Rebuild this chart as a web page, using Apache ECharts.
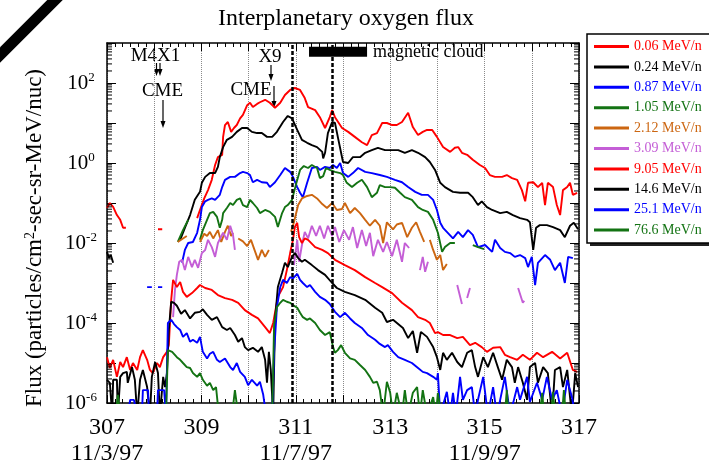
<!DOCTYPE html>
<html><head><meta charset="utf-8">
<script src="https://cdn.jsdelivr.net/npm/echarts@6/dist/echarts.min.js"></script>
<style>html,body{margin:0;padding:0;background:#fff}#c{width:709px;height:467px}</style>
</head><body><div id="c"></div>
<script>
const FONT = "'Liberation Serif','DejaVu Serif',serif";
const seriesNames = ['0.06 MeV/n','0.24 MeV/n','0.87 MeV/n','1.05 MeV/n','2.12 MeV/n','3.09 MeV/n','9.05 MeV/n','14.6 MeV/n','25.1 MeV/n','76.6 MeV/n'];
const seriesColors = ['#ff0000','#000000','#0000ff','#137313','#cc6611','#c45ed6','#ff0000','#000000','#0000ff','#137313'];

// [day of year, flux]
const s006 = [[307.00,7.5e-2],[307.06,0.1],[307.13,8e-2],[307.21,5e-2],[307.28,3.8e-2],[307.34,2.4e-2],[307.40,2.4e-2],null,
[308.08,2.2e-2],[308.17,2.2e-2],null,
[308.91,4.2e-2],[308.97,6.7e-2],[309.06,0.13],[309.14,0.21],[309.22,0.38],[309.29,0.89],[309.35,1.4],[309.44,1.6],[309.46,4.5],[309.50,8.9],[309.56,10.6],[309.63,6],[309.69,7.5],[309.75,8.9],[309.82,13],[309.88,16],[309.97,28],[310.03,32],[310.09,25],[310.18,30],[310.24,33],[310.35,38],[310.45,32],[310.56,24],[310.67,32],[310.77,50],[310.88,67],[310.98,75],[311.09,67],[311.19,42],[311.26,25],[311.41,21],[311.51,14],[311.62,7.5],[311.72,14],[311.77,21],[311.83,14],[311.98,7.5],[312.11,6],[312.25,4.5],[312.40,3.3],[312.51,2.8],[312.61,5],[312.72,5.6],[312.83,10],[312.93,10],[313.04,8.9],[313.14,8.9],[313.25,10.6],[313.38,18],[313.48,7.9],[313.59,5],[313.69,6],[313.78,6.7],[313.89,6.7],[313.99,4.5],[314.12,2.5],[314.27,1.9],[314.37,2.4],[314.44,2.5],[314.52,1.8],[314.63,1.6],[314.75,1.2],[314.90,0.89],[315.01,0.75],[315.11,0.5],[315.22,0.45],[315.37,0.45],[315.47,0.5],[315.58,0.42],[315.69,0.38],[315.79,0.21],[315.86,0.11],[315.92,0.32],[316.03,0.33],[316.13,0.25],[316.22,0.32],[316.28,8.9e-2],[316.34,0.32],[316.45,0.25],[316.53,8.9e-2],[316.60,5e-2],[316.66,0.21],[316.75,0.25],[316.81,0.32],[316.87,0.16],[316.96,0.18]];

const s024 = [[307.00,6e-3],[307.04,4.2e-3],[307.08,5e-3],[307.13,3.2e-3],null,
[308.55,1.2e-2],[308.65,2.4e-2],[308.76,5e-2],[308.86,0.12],[308.97,0.19],[309.01,0.32],[309.08,0.45],[309.18,0.56],[309.29,0.56],[309.35,0.8],[309.39,1.4],[309.46,2.5],[309.54,3.8],[309.65,4.5],[309.75,6],[309.86,7.5],[309.97,7.5],[310.07,6],[310.18,5.6],[310.28,5.6],[310.39,4.5],[310.50,4.5],[310.60,6],[310.73,10.6],[310.83,15],[310.92,13],[311.03,6.7],[311.13,3.8],[311.24,3.2],[311.34,2.8],[311.45,2.5],[311.56,1.9],[311.58,1.3],[311.62,1.8],[311.68,5.6],[311.77,10.6],[311.83,10],[311.89,4.5],[312.00,1.06],[312.11,1],[312.21,1.4],[312.36,1.4],[312.47,1.8],[312.61,2.1],[312.74,2.4],[312.89,2.1],[313.04,2.1],[313.17,2.1],[313.31,1.8],[313.46,2.1],[313.59,1.8],[313.74,1.4],[313.84,1.06],[313.95,0.67],[314.06,0.32],[314.16,0.25],[314.33,0.19],[314.48,0.18],[314.65,0.18],[314.75,0.14],[314.86,8.9e-2],[314.94,0.11],[315.05,7.9e-2],[315.16,6.7e-2],[315.33,5.6e-2],[315.47,6e-2],[315.60,5e-2],[315.75,4.2e-2],[315.90,3.8e-2],[315.96,3.3e-2],[316.03,6.7e-3],[316.09,2.4e-2],[316.17,2.8e-2],[316.32,2.8e-2],[316.45,2.5e-2],[316.60,2.1e-2],[316.70,1.4e-2],[316.81,2.7e-2],[316.89,3.2e-2],[316.98,2.2e-2]];

const s087 = [[307.85,7.9e-4],[307.95,7.9e-4],null,[308.08,7.9e-4],[308.17,7.9e-4],null,
[308.59,3.2e-3],[308.65,6.7e-3],[308.72,1e-2],[308.82,1.06e-2],[308.91,1.8e-2],[308.97,3.8e-2],[309.01,7.9e-2],[309.08,0.11],[309.14,0.12],[309.22,0.13],[309.29,0.12],[309.39,0.16],[309.44,0.25],[309.50,0.38],[309.61,0.45],[309.71,0.45],[309.82,0.56],[309.88,0.6],[309.97,0.56],[310.03,0.5],[310.09,0.33],[310.18,0.38],[310.28,0.33],[310.39,0.32],[310.45,0.25],[310.56,0.33],[310.67,0.5],[310.77,0.75],[310.88,0.6],[310.94,0.45],[311.03,0.25],[311.09,0.18],[311.15,0.14],[311.24,0.32],[311.34,0.75],[311.45,0.8],[311.51,0.67],[311.62,0.8],[311.72,0.75],[311.79,0.89],[311.87,0.75],[311.94,1],[312.00,0.56],[312.11,0.45],[312.21,0.56],[312.32,0.75],[312.47,0.6],[312.61,0.56],[312.78,0.5],[312.93,0.45],[313.10,0.38],[313.25,0.33],[313.38,0.25],[313.53,0.19],[313.67,0.16],[313.80,0.16],[313.91,0.12],[313.99,6.7e-2],[314.06,3.2e-2],[314.12,2.4e-2],[314.20,1.9e-2],[314.33,1.3e-2],[314.44,1.9e-2],[314.54,1.4e-2],[314.65,2.1e-2],[314.75,1.6e-2],[314.86,7.9e-3],[315.01,8.9e-3],[315.16,6e-3],[315.22,1.2e-2],[315.33,7.5e-3],[315.43,6e-3],[315.54,5.6e-3],[315.64,4.5e-3],[315.75,5e-3],[315.86,4.2e-3],[315.92,2.5e-3],[316.00,4.5e-3],[316.07,8.9e-4],[316.13,3.2e-3],[316.28,5e-3],[316.39,3.8e-3],[316.49,2.1e-3],[316.60,3.2e-3],[316.70,1e-3],[316.77,4.5e-3],[316.87,4.2e-3]];

const s105 = [[308.50,1.06e-2],[308.61,2.1e-2],[308.72,3.8e-2],null,
[308.97,1.2e-2],[309.03,2.1e-2],[309.12,3.8e-2],[309.18,5.6e-2],[309.25,6e-2],[309.33,4.5e-2],[309.39,2.4e-2],[309.44,3.8e-2],[309.46,5.6e-2],[309.54,7.5e-2],[309.61,0.1],[309.67,8.9e-2],[309.75,0.12],[309.82,0.13],[309.88,8.9e-2],[309.97,7.9e-2],[310.03,0.12],[310.09,0.1],[310.18,7.5e-2],[310.24,5.6e-2],[310.35,6.7e-2],[310.45,6e-2],[310.56,4.5e-2],[310.62,2.5e-2],[310.71,5.6e-2],[310.77,7.9e-2],[310.83,8.9e-2],[310.92,0.12],[311.00,0.28],[311.09,0.67],[311.17,0.84],[311.26,0.75],[311.34,0.89],[311.45,0.75],[311.51,0.42],[311.58,0.47],[311.64,0.75],[311.72,0.67],[311.83,0.6],[311.94,0.56],[312.00,0.5],[312.08,0.32],[312.19,0.25],[312.30,0.32],[312.40,0.38],[312.51,0.25],[312.61,0.14],[312.72,0.18],[312.78,0.28],[312.89,0.25],[313.00,0.25],[313.10,0.24],[313.21,0.18],[313.31,0.14],[313.46,0.12],[313.59,7.9e-2],[313.69,6.7e-2],[313.80,6e-2],[313.91,3.8e-2],[314.01,1.8e-2],[314.10,6e-3],[314.16,7.9e-3],[314.27,1e-2],[314.37,1e-2],null,
[314.75,8.9e-3],[314.86,7.9e-3],[314.99,7e-3]];

const s212 = [[308.50,1.06e-2],[308.61,1.3e-2],[308.69,1.5e-2],null,
[308.97,1.06e-2],[309.06,1.7e-2],[309.12,1.5e-2],[309.18,1.9e-2],[309.25,1.3e-2],[309.35,2.1e-2],[309.42,1.06e-2],[309.50,1.9e-2],[309.56,2.7e-2],[309.63,1.5e-2],[309.67,1.8e-2],null,
[309.78,1.3e-2],[309.88,1.1e-2],[309.97,8.4e-3],[310.05,1.2e-2],[310.14,6e-3],[310.20,3.8e-3],[310.28,6.7e-3],[310.35,4.5e-3],[310.43,6.7e-3],null,
[310.90,1.9e-2],[310.96,3.3e-2],[311.05,8.9e-2],[311.13,0.13],[311.24,0.15],[311.34,0.16],[311.45,0.13],[311.56,9.4e-2],[311.66,7.5e-2],[311.77,0.1],[311.87,6.7e-2],[311.98,7.1e-2],[312.04,0.1],[312.15,5.6e-2],[312.25,7.5e-2],[312.36,5.6e-2],[312.47,3.8e-2],[312.57,2.7e-2],[312.68,3.8e-2],[312.78,2.7e-2],[312.85,1e-2],[312.93,3.3e-2],[313.06,2.2e-2],[313.14,2.9e-2],[313.25,3.2e-2],[313.36,1.4e-2],[313.46,2.4e-2],[313.55,3.3e-2],[313.63,1.9e-2],[313.72,1.06e-2],null,
[313.84,1.2e-2],[313.91,6.7e-3],[313.99,3.8e-3],[314.06,5e-3],[314.12,2.1e-3],[314.20,3e-3]];

const s309 = [[308.40,1.4e-4],[308.44,6.7e-4],[308.48,1.6e-3],[308.53,3.4e-3],[308.59,3.8e-3],[308.65,2.1e-3],[308.72,4.5e-3],[308.80,2.5e-3],[308.86,3.8e-3],[308.93,2.4e-3],[309.01,5.6e-3],[309.08,6.7e-3],[309.14,1.2e-2],[309.22,7.9e-3],[309.29,4.5e-3],[309.35,1e-2],[309.46,1.8e-2],[309.54,1.2e-2],[309.61,2.7e-2],[309.67,1.6e-2],[309.71,6.7e-3],null,
[310.96,2.8e-3],[311.03,1.2e-2],[311.07,3.4e-3],[311.13,8.9e-3],[311.19,1.9e-2],[311.26,1.3e-2],[311.34,2.7e-2],[311.43,1.5e-2],[311.51,2.7e-2],[311.60,1.3e-2],[311.68,2.7e-2],[311.77,1.5e-2],[311.83,2.5e-2],[311.92,1.06e-2],[312.02,2.1e-2],[312.13,1.2e-2],[312.21,2.5e-2],[312.30,7.5e-3],[312.40,2.1e-2],[312.49,8.4e-3],[312.57,1.8e-2],[312.64,4.7e-3],[312.74,1.2e-2],[312.85,6e-3],[312.93,1.06e-2],[313.04,4.7e-3],[313.14,1.2e-2],[313.25,3.4e-3],[313.31,1e-2],[313.40,7.5e-3],null,
[313.63,2.1e-3],[313.69,4.5e-3],[313.74,1.9e-3],[313.80,3.4e-3],null,
[314.42,8.9e-4],[314.52,3e-4],null,[314.63,4.2e-4],[314.69,7.5e-4],null,[315.71,7.5e-4],[315.81,3.2e-4],[315.84,3.6e-4]];

const s905 = [[307.00,1.4e-5],[307.06,7.5e-6],[307.13,1.2e-5],[307.21,4.5e-6],[307.28,1.06e-5],[307.34,7.9e-6],[307.42,1.4e-5],[307.49,6.7e-6],[307.55,1e-5],[307.64,6.7e-6],[307.70,1.4e-5],[307.76,2.1e-5],[307.85,1.2e-5],[307.91,6.7e-6],[307.97,5.6e-6],[308.06,1e-5],[308.12,7.9e-6],[308.19,1.4e-5],[308.27,1.9e-5],[308.31,2.8e-5],[308.36,3.8e-4],[308.40,1.2e-3],[308.48,7.9e-4],[308.55,1.06e-3],[308.61,6e-4],[308.69,4.5e-4],[308.80,5.6e-4],[308.91,7.5e-4],[308.97,8.9e-4],[309.08,7.5e-4],[309.22,6.7e-4],[309.35,5e-4],[309.50,4.2e-4],[309.65,3.8e-4],[309.78,3.2e-4],[309.92,2.1e-4],[310.07,1.6e-4],[310.20,1.3e-4],[310.35,7.9e-5],[310.45,5.6e-5],[310.52,1e-4],[310.62,4.5e-4],[310.73,7.9e-4],[310.81,2.1e-3],[310.88,5.6e-3],[310.94,1.2e-2],[310.98,2.5e-2],[311.03,3.2e-2],[311.07,1.4e-2],[311.13,1e-2],[311.19,1.3e-2],[311.26,1.2e-2],[311.41,7.9e-3],[311.56,6.7e-3],[311.68,5.6e-3],[311.83,3.8e-3],[312.04,2.8e-3],[312.25,2.1e-3],[312.47,1.4e-3],[312.68,1e-3],[312.83,7.9e-4],[313.04,5.6e-4],[313.25,3.2e-4],[313.46,2.1e-4],[313.59,1.4e-4],[313.74,1.2e-4],[313.84,1e-4],[313.95,5.6e-5],[314.01,5.9e-5],[314.12,5e-5],[314.27,5e-5],[314.42,4.2e-5],[314.54,4.5e-5],[314.69,2.8e-5],[314.80,3.2e-5],[314.94,2.5e-5],[315.05,1.9e-5],[315.18,2.4e-5],[315.33,2.5e-5],[315.43,1.6e-5],[315.54,1.4e-5],[315.69,1.2e-5],[315.81,1.6e-5],[315.96,1.2e-5],[316.11,1.8e-5],[316.24,1.4e-5],[316.43,1.9e-5],[316.60,1.3e-5],[316.75,1.8e-5],[316.87,6.7e-6],[316.96,6e-6]];

const s146 = [[307.00,3.8e-6],[307.06,3.2e-6],[307.11,5e-7],[307.13,3.8e-6],[307.21,3.8e-6],[307.23,5e-7],[307.28,4.5e-6],[307.34,5.6e-6],[307.42,6e-6],[307.44,3.2e-6],[307.53,7.9e-6],[307.59,3.8e-6],[307.64,5e-7],[307.70,3.8e-6],[307.76,6.7e-6],[307.85,2.5e-6],[307.91,5e-7],[307.95,4.5e-6],[308.02,1.06e-5],[308.08,5.6e-6],[308.12,5e-7],[308.19,4.5e-6],[308.23,2.5e-6],[308.27,5.6e-6],[308.31,6.7e-5],[308.36,3.4e-4],[308.42,3.2e-4],[308.48,2.7e-4],[308.57,1.7e-4],[308.65,2.1e-4],[308.76,1.3e-4],[308.86,1.8e-4],[308.97,1.9e-4],[309.03,2.2e-4],[309.12,1.6e-4],[309.22,1.2e-4],[309.33,1.4e-4],[309.44,7.9e-5],[309.54,6.7e-5],[309.61,7.5e-5],[309.71,5e-5],[309.78,3.4e-5],[309.86,4.2e-5],[309.92,2.5e-5],[309.99,2.1e-5],[310.09,2.4e-5],[310.20,1.9e-5],[310.28,2.5e-5],[310.35,1.2e-5],[310.39,3.2e-6],[310.43,1.9e-5],[310.47,6.7e-6],[310.52,5e-7],[310.56,1.2e-4],[310.62,7.9e-4],[310.71,1.8e-3],[310.77,3.2e-3],[310.83,2.5e-3],[310.92,4.5e-3],[310.98,5.6e-3],[311.05,4.2e-3],[311.13,3.4e-3],[311.19,3.8e-3],[311.34,2.8e-3],[311.47,2.1e-3],[311.62,1.6e-3],[311.77,1e-3],[311.87,7.5e-4],[312.04,6e-4],[312.25,5e-4],[312.47,3.8e-4],[312.68,2.4e-4],[312.83,1.8e-4],[312.93,1.06e-4],[313.06,1.2e-4],[313.27,7.5e-5],[313.38,4.2e-5],[313.48,6.3e-5],[313.57,1.8e-5],[313.65,6e-5],[313.78,4.5e-5],[313.91,2.5e-5],[313.99,1.4e-5],[314.06,6.7e-6],[314.12,1.8e-5],[314.20,1.2e-5],[314.31,1.8e-5],[314.42,1.06e-5],[314.52,7.9e-6],[314.63,1.8e-5],[314.73,2.1e-5],[314.80,7.9e-6],[314.86,4.5e-6],[314.97,1.4e-5],[315.07,7.9e-6],[315.18,1.8e-5],[315.28,7.9e-6],[315.37,3.8e-6],[315.47,1.2e-5],[315.58,7.9e-6],[315.64,3.2e-6],[315.71,7.9e-6],[315.81,3.2e-6],[315.90,1.2e-6],[315.96,7.9e-6],[316.07,1e-5],[316.13,3.2e-6],[316.24,7.9e-6],[316.34,5.6e-6],[316.43,5e-7],[316.49,6.7e-6],[316.60,7.9e-6],[316.66,2.5e-6],[316.75,6.7e-6],[316.85,5e-7],[316.92,5.6e-6],[316.98,2.5e-6]];

const s251 = [[307.00,5e-7],[307.44,5e-7],[307.49,1.2e-6],[307.57,1.2e-6],[307.64,5e-7],[307.74,5e-7],[307.76,2.1e-6],[307.87,2.1e-6],[307.89,5e-7],[308.06,5e-7],[308.08,2.1e-6],[308.21,2.1e-6],[308.25,5e-7],[308.29,1e-4],[308.36,1.2e-4],[308.42,9.4e-5],[308.48,7.9e-5],[308.55,6.7e-5],[308.61,4.5e-5],[308.69,5.6e-5],[308.76,3.4e-5],[308.82,3.8e-5],[308.91,3.2e-5],[308.97,4.5e-5],[309.03,1.9e-5],[309.12,1.3e-5],[309.18,1.7e-5],[309.25,1.9e-5],[309.33,1.2e-5],[309.39,1.06e-5],[309.50,1.3e-5],[309.61,7.9e-6],[309.67,6.7e-6],[309.75,1e-5],[309.82,6e-6],[309.92,4.5e-6],[309.99,2.8e-6],[310.07,3.8e-6],[310.18,2.7e-6],[310.24,3.4e-6],[310.31,1.6e-6],[310.37,5e-7],[310.50,5e-7],[310.54,1.8e-5],[310.60,2.5e-4],[310.67,7.9e-4],[310.73,1.2e-3],[310.81,1e-3],[310.88,1.4e-3],[310.94,1.3e-3],[311.03,1.7e-3],[311.09,1.2e-3],[311.15,1e-3],[311.24,7.9e-4],[311.30,8.9e-4],[311.41,6e-4],[311.51,4.5e-4],[311.62,3.8e-4],[311.72,3e-4],[311.83,1.9e-4],[311.94,1.4e-4],[312.04,1.8e-4],[312.15,1.3e-4],[312.25,1e-4],[312.40,7.5e-5],[312.53,5e-5],[312.68,3.8e-5],[312.78,3e-5],[312.89,2.5e-5],[312.95,2.8e-5],[313.06,1.9e-5],[313.17,1.4e-5],[313.31,1.2e-5],[313.46,1e-5],[313.59,7.5e-6],[313.69,6e-6],[313.78,5.6e-6],[313.91,4.5e-6],[313.99,3.8e-6],[314.01,5.6e-6],[314.06,5e-7],[314.20,1.9e-6],[314.27,5e-7],[314.33,1.8e-6],[314.39,5e-7],[314.48,4.5e-6],[314.54,1.2e-6],[314.63,2.1e-6],[314.73,2.5e-6],[314.80,5e-7],[314.86,1.2e-6],[314.97,4.5e-6],[315.07,5e-7],[315.18,2.5e-6],[315.26,5e-7],[315.33,1.2e-6],[315.43,4.5e-6],[315.54,5e-7],[315.69,2.5e-6],[315.75,1.2e-6],[315.90,4.5e-6],[315.96,1.06e-6],[316.11,3.2e-6],[316.22,1.2e-6],[316.32,4.5e-6],[316.43,1.2e-6],[316.53,2.1e-6],[316.64,5e-7],[316.75,3.8e-6],[316.85,1.4e-6],[316.92,5e-7]];

const s766 = [[307.00,5e-7],[307.19,5e-7],[307.23,1.6e-6],[307.28,5e-7],[308.25,5e-7],[308.29,2.1e-5],[308.38,1.9e-5],[308.48,1.4e-5],[308.55,1.2e-5],[308.61,1e-5],[308.69,7.9e-6],[308.76,7.5e-6],[308.82,5.6e-6],[308.91,4.5e-6],[308.97,5.6e-6],[309.03,3.8e-6],[309.12,2.7e-6],[309.18,3.2e-6],[309.25,2.1e-6],[309.31,2.5e-6],[309.37,5e-7],[309.65,5e-7],[309.71,2.1e-6],[309.78,5e-7],[310.50,5e-7],[310.54,8.9e-5],[310.60,2.5e-4],[310.67,3.2e-4],[310.73,3.8e-4],[310.81,3.4e-4],[310.88,3.2e-4],[310.94,2.8e-4],[311.03,2.4e-4],[311.09,1.8e-4],[311.15,1.4e-4],[311.24,1.2e-4],[311.30,1.3e-4],[311.41,1e-4],[311.51,6.7e-5],[311.62,5e-5],[311.72,5.9e-5],[311.79,2.5e-5],[311.83,1.8e-5],[311.89,2.1e-5],[311.96,2.8e-5],[312.04,1.8e-5],[312.15,1.3e-5],[312.25,1.2e-5],[312.36,8.9e-6],[312.47,6.7e-6],[312.57,4.5e-6],[312.64,3.2e-6],[312.72,3.4e-6],[312.78,2.1e-6],[312.85,5e-7],[312.93,3.4e-6],[313.00,1.8e-6],[313.06,5e-7],[313.14,1.8e-6],[313.25,5e-7],[313.31,2.1e-6],[313.38,5e-7],[313.48,1.8e-6],[313.57,2.5e-6],[313.63,5e-7],[313.69,2.1e-6],[313.78,5e-7],[313.91,1.4e-6],[313.97,5e-7],[314.01,1.8e-6],[314.08,5e-7],[315.43,5e-7],[315.47,2.1e-6],[315.51,5e-7],[316.17,5e-7],[316.22,1.8e-6],[316.26,5e-7],[316.41,5e-7],[316.45,1.9e-6],[316.49,5e-7],[316.64,5e-7],[316.68,2.1e-6],[316.72,5e-7],[317.00,5e-7]];

const seriesData = [s006, s024, s087, s105, s212, s309, s905, s146, s251, s766];

const labelDays = [307, 309, 311, 313, 315, 317];
const dateLabelDays = [307, 311, 315];
const dateLabelText = ['11/3/97', '11/7/97', '11/9/97'];
const shockDays = [310.93, 311.77];
const cloudSpan = [311.28, 312.51];
const cloudLevel = 600;
const decadeExponents = [-6, -5, -4, -3, -2, -1, 0, 1, 2];
const minorMantissas = [2, 3, 4, 5, 6, 7, 8, 9];

const minorTickValues = [];
decadeExponents.forEach(e => minorMantissas.forEach(m => minorTickValues.push([307, m * Math.pow(10, e)])));

const chart = echarts.init(document.getElementById('c'), null, {renderer: 'canvas'});

const lineSeries = seriesNames.map((n, i) => ({
  name: n, type: 'line', data: seriesData[i], showSymbol: false, symbol: 'none',
  connectNulls: false, clip: true, animation: false, silent: true,
  lineStyle: {color: seriesColors[i], width: 1.9}, itemStyle: {color: seriesColors[i]}
}));

const xBase = {
  type: 'value', min: 307, max: 317, interval: 1, gridIndex: 0,
  axisLine: {show: true, lineStyle: {color: '#000', width: 1.5}},
  axisTick: {show: true, inside: true, length: 8, lineStyle: {color: '#000', width: 1}},
  minorTick: {show: true, splitNumber: 6, length: 4, lineStyle: {color: '#000', width: 1}},
};
const yBase = {
  type: 'log', logBase: 10, min: 1e-6, max: 1e3, splitNumber: 9, gridIndex: 0,
  axisLine: {show: true, lineStyle: {color: '#000', width: 1.5}},
  axisTick: {show: true, inside: true, length: 9, lineStyle: {color: '#000', width: 1}},
  splitLine: {show: false}
};

function arrow(x, y1, y2) {
  return [
    {type: 'line', shape: {x1: x, y1: y1, x2: x, y2: y2 - 4}, style: {stroke: '#000', lineWidth: 1.2}},
    {type: 'polygon', shape: {points: [[x - 2.5, y2 - 7], [x + 2.5, y2 - 7], [x, y2]]}, style: {fill: '#000'}}
  ];
}
function label(text, x, y, size, align) {
  return {type: 'text', x: x, y: y, style: {text: text, fontSize: size, fontFamily: FONT, fill: '#000', align: align || 'center', verticalAlign: 'middle', textAlign: align || 'center', textVerticalAlign: 'middle'}};
}

const option = {
  animation: false,
  backgroundColor: '#fff',
  title: {text: 'Interplanetary oxygen flux', left: 341, top: 2, textAlign: 'center',
    textStyle: {fontFamily: FONT, fontSize: 24, fontWeight: 'normal', color: '#000'}},
  grid: {left: 107, top: 43, width: 472, height: 360, containLabel: false, outerBoundsMode: 'none'},
  legend: {
    data: seriesNames.map((n, i) => ({name: n, textStyle: {color: seriesColors[i]}})),
    orient: 'vertical', left: 594, top: 39, itemWidth: 35, itemHeight: 3, itemGap: 5.4,
    icon: 'rect', padding: 0, selectedMode: false, z: 20,
    textStyle: {fontFamily: FONT, fontSize: 14, lineHeight: 15}
  },
  xAxis: [
    Object.assign({}, xBase, {
      position: 'bottom',
      splitLine: {show: true, lineStyle: {color: '#8a8a8a', type: 'dotted', width: 1}},
      axisLabel: {
        show: true, margin: 12, showMinLabel: true, showMaxLabel: true, hideOverlap: false,
        formatter: v => {
          if (labelDays.indexOf(v) < 0) return '';
          const i = dateLabelDays.indexOf(v);
          return '{d|' + v + '}' + (i >= 0 ? '\n{d|' + dateLabelText[i] + '}' : '');
        },
        rich: {d: {fontFamily: FONT, fontSize: 24, lineHeight: 26, color: '#000'}}
      }
    }),
    Object.assign({}, xBase, {position: 'top', axisLabel: {show: false}, splitLine: {show: false}})
  ],
  yAxis: [
    Object.assign({}, yBase, {
      position: 'left',
      axisLabel: {
        show: true, margin: 26, align: 'center', showMinLabel: true, showMaxLabel: true, hideOverlap: false,
        formatter: v => {
          const e = Math.round(Math.log10(v));
          return (e % 2 === 0) ? '{b|10}{s|' + e + '}' : '';
        },
        rich: {
          b: {fontFamily: FONT, fontSize: 21, lineHeight: 24, color: '#000'},
          s: {fontFamily: FONT, fontSize: 13, lineHeight: 13, color: '#000', verticalAlign: 'top'}
        }
      }
    }),
    Object.assign({}, yBase, {position: 'right', axisLabel: {show: false}})
  ],
  series: lineSeries.concat([
    {
      name: 'magnetic cloud', type: 'line', showSymbol: false, symbol: 'none', silent: true,
      data: [[cloudSpan[0], cloudLevel], [cloudSpan[1], cloudLevel]],
      lineStyle: {color: '#000', width: 10, cap: 'butt'},
      markLine: {
        silent: true, symbol: ['none', 'none'], label: {show: false},
        lineStyle: {color: '#000', type: [4, 2], width: 2.5},
        data: shockDays.map(d => ({xAxis: d}))
      }
    },
    {
      name: 'minorTicks', type: 'custom', silent: true, clip: false, z: 6,
      data: minorTickValues, encode: {x: 0, y: 1},
      renderItem: (params, api) => {
        const v = api.value(1);
        const l = api.coord([307, v]);
        const r = api.coord([317, v]);
        return {type: 'group', children: [
          {type: 'line', shape: {x1: l[0], y1: l[1], x2: l[0] + 5, y2: l[1]}, style: {stroke: '#000', lineWidth: 1}},
          {type: 'line', shape: {x1: r[0] - 5, y1: r[1], x2: r[0], y2: r[1]}, style: {stroke: '#000', lineWidth: 1}}
        ]};
      }
    }
  ]),
  graphic: [
    {type: 'line', shape: {x1: -6, y1: 61, x2: 61, y2: -6}, style: {stroke: '#000', lineWidth: 11}},
    {type: 'rect', z: 1, shape: {x: 590, y: 37, width: 140, height: 209}, style: {fill: '#222'}},
    {type: 'rect', z: 1, shape: {x: 587, y: 34, width: 140, height: 209}, style: {fill: '#fff', stroke: '#000', lineWidth: 1.5}},
    label('M4X1', 155.5, 56.5, 19),
    ...arrow(156.5, 63, 76),
    ...arrow(160, 63, 76),
    label('CME', 162.5, 91.5, 19),
    ...arrow(163, 100, 128),
    label('X9', 270, 57, 19),
    ...arrow(271, 65, 81),
    label('CME', 251, 90, 19),
    ...arrow(274, 86, 108),
    label('magnetic cloud', 373, 52, 18, 'left'),
    {type: 'text', x: 35, y: 238, rotation: Math.PI / 2,
      style: {text: 'Flux (particles/cm{s|2}-sec-sr-MeV/nuc)', fontSize: 23, fontFamily: FONT, fill: '#000',
        align: 'center', verticalAlign: 'middle', textAlign: 'center', textVerticalAlign: 'middle',
        rich: {s: {fontSize: 14, fontFamily: FONT, fill: '#000', verticalAlign: 'top', lineHeight: 13}}}}
  ]
};
chart.setOption(option);
</script>
</body></html>
